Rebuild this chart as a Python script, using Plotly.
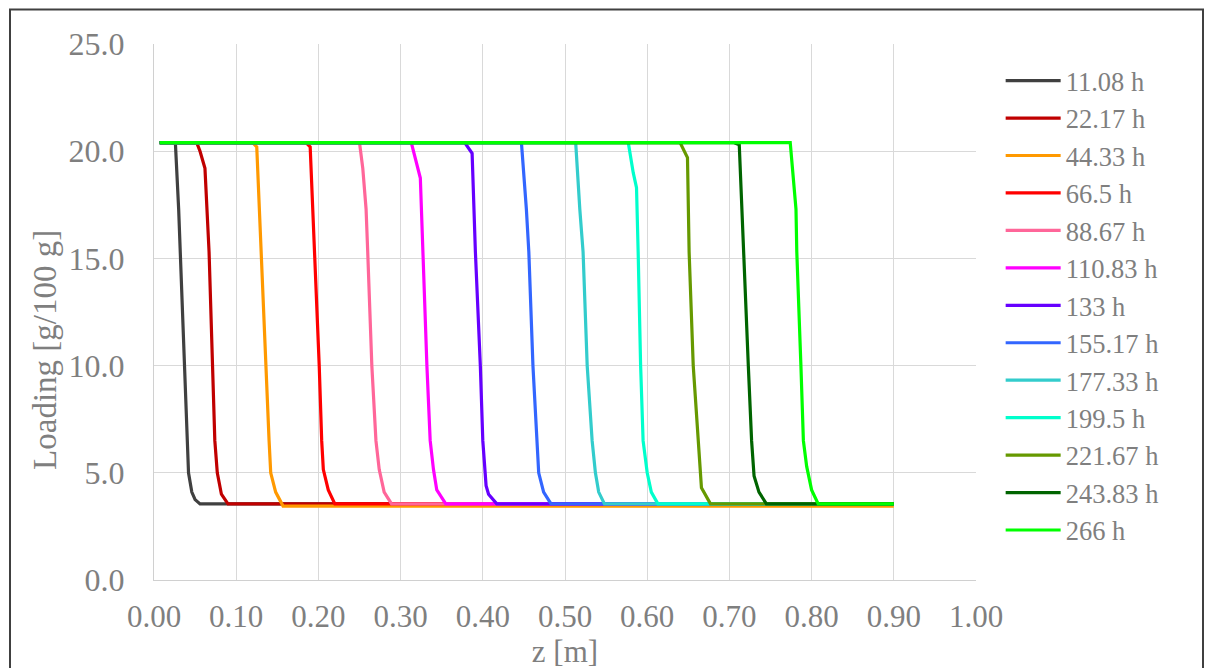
import plotly.graph_objects as go

# Series labels (legend) and colours
series_names = ["11.08 h", "22.17 h", "44.33 h", "66.5 h", "88.67 h", "110.83 h", "133 h",
                "155.17 h", "177.33 h", "199.5 h", "221.67 h", "243.83 h", "266 h"]
series_colors = ["#404040", "#C00000", "#FF9900", "#FF0000", "#FF6699", "#FF00FF", "#6600FF",
                 "#3366FF", "#33CCCC", "#00FFCC", "#669900", "#006400", "#00FF00"]

# Loading profiles: z [m] and loading [g/100 g]
z_11_08 = [0.007, 0.026, 0.030, 0.037, 0.042, 0.046, 0.050, 0.056, 0.900]
q_11_08 = [20.4, 20.4, 17.3, 10.0, 5.0, 4.1, 3.75, 3.55, 3.55]

z_22_17 = [0.007, 0.052, 0.056, 0.062, 0.067, 0.071, 0.074, 0.077, 0.082, 0.090, 0.900]
q_22_17 = [20.4, 20.4, 20.0, 19.2, 15.3, 10.0, 6.5, 5.0, 4.0, 3.55, 3.55]

z_44_33 = [0.007, 0.120, 0.125, 0.128, 0.131, 0.136, 0.140, 0.142, 0.148, 0.157, 0.900]
q_44_33 = [20.4, 20.4, 20.2, 17.3, 15.3, 10.0, 6.5, 5.0, 4.1, 3.45, 3.45]

z_66_5 = [0.007, 0.185, 0.190, 0.193, 0.196, 0.201, 0.204, 0.206, 0.212, 0.220, 0.900]
q_66_5 = [20.4, 20.4, 20.2, 17.3, 15.3, 10.0, 6.5, 5.15, 4.2, 3.55, 3.55]

z_88_67 = [0.007, 0.250, 0.254, 0.258, 0.260, 0.265, 0.270, 0.274, 0.280, 0.289, 0.900]
q_88_67 = [20.4, 20.4, 19.2, 17.3, 15.3, 10.0, 6.5, 5.15, 4.1, 3.55, 3.55]

z_110_83 = [0.007, 0.313, 0.324, 0.327, 0.332, 0.336, 0.340, 0.344, 0.355, 0.900]
q_110_83 = [20.4, 20.4, 18.75, 15.3, 10.0, 6.5, 5.15, 4.2, 3.55, 3.55]

z_133 = [0.007, 0.378, 0.387, 0.391, 0.397, 0.400, 0.404, 0.407, 0.417, 0.900]
q_133 = [20.4, 20.4, 19.9, 15.3, 10.0, 6.5, 4.4, 4.0, 3.55, 3.55]

z_155_17 = [0.007, 0.447, 0.453, 0.456, 0.461, 0.466, 0.468, 0.474, 0.483, 0.900]
q_155_17 = [20.4, 20.4, 17.3, 15.3, 10.0, 6.5, 5.0, 4.1, 3.55, 3.55]

z_177_33 = [0.007, 0.513, 0.518, 0.522, 0.527, 0.533, 0.537, 0.541, 0.548, 0.900]
q_177_33 = [20.4, 20.4, 17.3, 15.3, 10.0, 6.5, 5.0, 4.1, 3.55, 3.55]

z_199_5 = [0.007, 0.577, 0.583, 0.587, 0.589, 0.592, 0.595, 0.600, 0.605, 0.613, 0.900]
q_199_5 = [20.4, 20.4, 19.0, 18.3, 15.3, 10.0, 6.5, 5.0, 4.1, 3.55, 3.55]

z_221_67 = [0.007, 0.640, 0.649, 0.651, 0.656, 0.662, 0.666, 0.677, 0.900]
q_221_67 = [20.4, 20.4, 19.7, 15.3, 10.0, 6.5, 4.3, 3.55, 3.55]

z_243_83 = [0.007, 0.705, 0.712, 0.715, 0.717, 0.723, 0.727, 0.730, 0.736, 0.745, 0.900]
q_243_83 = [20.4, 20.4, 20.3, 17.3, 15.3, 10.0, 6.5, 4.85, 4.1, 3.55, 3.55]

z_266 = [0.007, 0.774, 0.781, 0.782, 0.787, 0.790, 0.794, 0.800, 0.808, 0.900]
q_266 = [20.4, 20.4, 17.3, 15.3, 10.0, 6.5, 5.3, 4.2, 3.55, 3.55]

z_series = [z_11_08, z_22_17, z_44_33, z_66_5, z_88_67, z_110_83, z_133,
            z_155_17, z_177_33, z_199_5, z_221_67, z_243_83, z_266]
q_series = [q_11_08, q_22_17, q_44_33, q_66_5, q_88_67, q_110_83, q_133,
            q_155_17, q_177_33, q_199_5, q_221_67, q_243_83, q_266]

FONT = "Liberation Serif, Times New Roman, serif"
TXT = "#7f7f7f"

fig = go.Figure()
for name, color, zs, qs in zip(series_names, series_colors, z_series, q_series):
    fig.add_trace(go.Scatter(x=zs, y=qs, mode="lines", name=name,
                             line=dict(color=color, width=3.2)))

fig.update_layout(
    width=1214, height=668,
    margin=dict(l=146, r=246, t=35.5, b=95.5, autoexpand=False),
    paper_bgcolor="white", plot_bgcolor="white",
    font=dict(family=FONT, color=TXT, size=30),
    showlegend=True,
    legend=dict(x=1.03, y=0.976, xanchor="left", yanchor="top",
                font=dict(family=FONT, color=TXT, size=26.5),
                itemwidth=55, bgcolor="rgba(0,0,0,0)",
                tracegroupgap=0),
    xaxis=dict(range=[0, 1.0], dtick=0.1, tick0=0, tickformat=".2f",
               showgrid=True, gridcolor="#d9d9d9", gridwidth=1,
               showline=True, linecolor="#d0d0d0", linewidth=1,
               zeroline=False, ticks="", ticklabelstandoff=9, automargin=False,
               tickfont=dict(family=FONT, color=TXT, size=31),
               title=dict(text="z [m]", standoff=1,
                          font=dict(family=FONT, color=TXT, size=31))),
    yaxis=dict(range=[0, 25], dtick=5, tick0=0, tickformat=".1f",
               showgrid=True, gridcolor="#d9d9d9", gridwidth=1,
               showline=True, linecolor="#d0d0d0", linewidth=1,
               zeroline=False, ticks="", ticklabelstandoff=22, automargin=False,
               tickfont=dict(family=FONT, color=TXT, size=32)),
    annotations=[dict(text="Loading [g/100 g]", textangle=-90, showarrow=False,
                      xref="paper", yref="paper",
                      x=(45 - 154) / 822, y=(580.5 - 350) / 537,
                      xanchor="center", yanchor="middle",
                      font=dict(family=FONT, color=TXT, size=33))],
    shapes=[dict(type="rect", xref="paper", yref="paper",
                 x0=(10 - 154) / 822, x1=(1203 - 154) / 822,
                 y0=(580.5 - 680) / 537, y1=(580.5 - 9) / 537,
                 line=dict(color="#404040", width=2), layer="below")],
)

fig.write_html("out.html")
